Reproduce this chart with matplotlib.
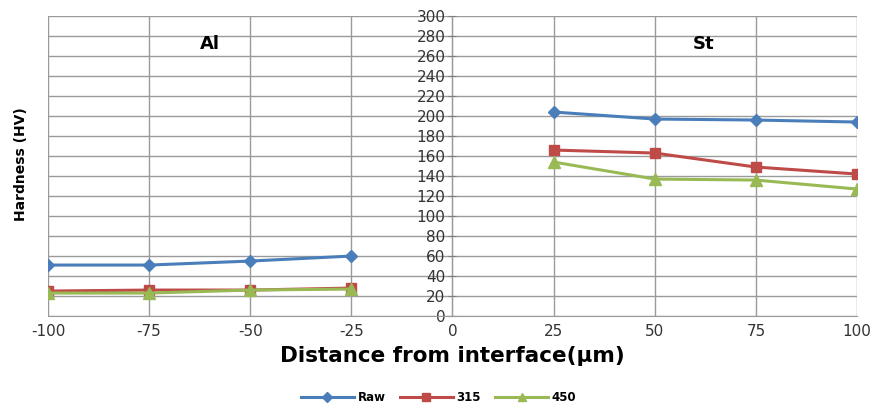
import matplotlib.pyplot as plt
import numpy as np

plt.rcParams['axes.unicode_minus'] = False

x_al = [-100, -75, -50, -25]
x_st = [25, 50, 75, 100]
raw_al = [51, 51, 55, 60]
raw_st = [204, 197, 196, 194]
t315_al = [25, 26, 26, 28]
t315_st = [166, 163, 149, 142]
t450_al = [23, 23, 26, 27]
t450_st = [154, 137, 136, 127]

series = [
    ('Raw', raw_al, raw_st, '#4A7EBB', 'D', 6),
    ('315', t315_al, t315_st, '#BE4B48', 's', 7),
    ('450', t450_al, t450_st, '#98B954', '^', 8),
]

fig = plt.figure(figsize=(8.77, 4.11), dpi=100)
ax = fig.add_axes([0.0547, 0.231, 0.9225, 0.730])

for name, al, st, col, mk, ms in series:
    ax.plot(x_al, al, color=col, marker=mk, markersize=ms, linewidth=2.2)
    ax.plot(x_st, st, color=col, marker=mk, markersize=ms, linewidth=2.2, label=name)

ax.set_xlim(-100, 100)
ax.set_ylim(0, 300)
ax.set_xticks(np.arange(-100, 101, 25))
ax.set_yticks(np.arange(0, 301, 20))
ax.grid(True, color='#9a9a9a', linewidth=1)
ax.set_axisbelow(True)

for s in ['top', 'right']:
    ax.spines[s].set_visible(False)
ax.spines['bottom'].set_color('#9a9a9a')
ax.spines['left'].set_position(('data', 0))
ax.spines['left'].set_color('#7f7f7f')
ax.spines['left'].set_zorder(0.5)

ax.tick_params(axis='y', direction='inout', length=6, color='#7f7f7f',
               labelsize=11, labelcolor='#333333', pad=2)
ax.tick_params(axis='x', length=0, labelsize=11, labelcolor='#333333', pad=6)

ax.text(-60, 272, 'Al', fontsize=13, fontweight='bold', ha='center', va='center')
ax.text(62, 272, 'St', fontsize=13, fontweight='bold', ha='center', va='center')

ax.set_xlabel('Distance from interface(µm)', fontsize=15.5, fontweight='bold', labelpad=5)
fig.text(0.024, 0.6, 'Hardness (HV)', rotation=90, fontsize=10, fontweight='bold',
         ha='center', va='center')

fig.legend(loc='lower center', bbox_to_anchor=(0.5, -0.01), ncol=3, frameon=False,
           prop={'size': 8.5, 'weight': 'bold'}, handlelength=4.5, columnspacing=1.2,
           handletextpad=0.3, markerscale=0.8)

fig.savefig('out.png', dpi=100)
